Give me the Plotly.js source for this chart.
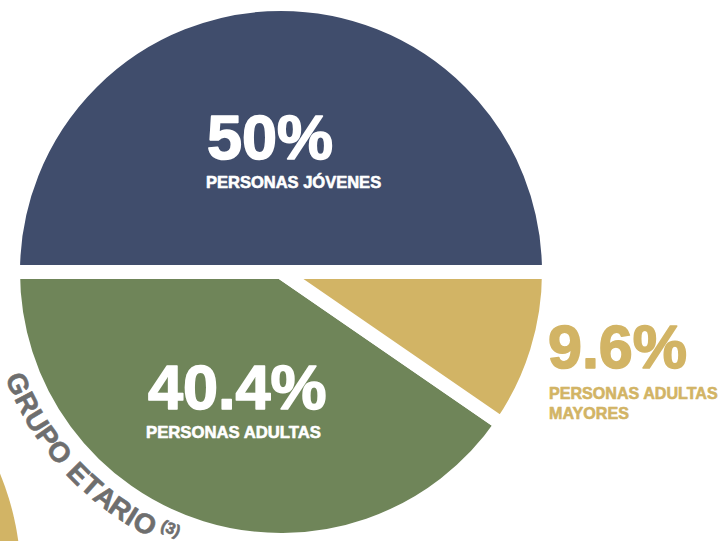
<!DOCTYPE html>
<html>
<head>
<meta charset="utf-8">
<script src="https://cdn.plot.ly/plotly-3.0.1.min.js"></script>
<style>
  html, body { margin: 0; padding: 0; background: #ffffff; overflow: hidden; }
  #chart { width: 720px; height: 541px; }
</style>
</head>
<body>
<div id="chart"></div>
<script>
// ---- data ----
const categories = ["PERSONAS JÓVENES", "PERSONAS ADULTAS", "PERSONAS ADULTAS MAYORES"];
const shares = [50, 40.4, 9.6];
const shareLabels = ["50%", "40.4%", "9.6%"];
const captionLines = [["PERSONAS JÓVENES"], ["PERSONAS ADULTAS"], ["PERSONAS ADULTAS", "MAYORES"]];
const sectionTitle = "GRUPO ETARIO";
const sectionNote = "(3)";

// ---- styles ----
const W = 720, H = 541;
const colors = ["#404d6c", "#6f8559", "#d2b465"];
const FONT = "Liberation Sans, Arial, Helvetica, sans-serif";
const px = (x) => x / W;
const py = (y) => 1 - y / H;

const annotations = [];
// label positions (pixel anchors: left edge, vertical centre of caps)
const bigPos = [
  { x: 205, y: 137, size: 63, color: "#ffffff" },
  { x: 146, y: 387, size: 63, color: "#ffffff" },
  { x: 546, y: 347, size: 61, color: colors[2] }
];
const capPos = [
  { x: 204, y: 182.5, size: 16.5, color: "#ffffff", lh: 0 },
  { x: 144, y: 432, size: 16.7, color: "#ffffff", lh: 0 },
  { x: 547, y: 393, size: 16.1, color: colors[2], lh: 19.5 }
];
for (let i = 0; i < shares.length; i++) {
  const b = bigPos[i];
  annotations.push({
    xref: "paper", yref: "paper", x: px(b.x), y: py(b.y),
    xanchor: "left", yanchor: "middle", showarrow: false,
    text: shareLabels[i],
    font: { family: FONT, size: b.size, color: b.color, weight: 700 }
  });
  const c = capPos[i];
  captionLines[i].forEach((line, k) => {
    annotations.push({
      xref: "paper", yref: "paper", x: px(c.x), y: py(c.y + k * c.lh),
      xanchor: "left", yanchor: "middle", showarrow: false,
      text: line,
      font: { family: FONT, size: c.size, color: c.color, weight: 700 }
    });
  });
}

// curved section title around the pie
const cx = 281, cy = 272;
const gray = "#6e6e6e";
const canvas = document.createElement("canvas");
const ctx = canvas.getContext("2d");
const tSize = 28, tR = 286, startDeg = 157;
ctx.font = "bold " + tSize + "px 'Liberation Sans'";
const measure = (s) => ctx.measureText(s).width;
const c0 = measure(sectionTitle[0]) / 2;
let lastCenter = 0;
for (let i = 0; i < sectionTitle.length; i++) {
  const ch = sectionTitle[i];
  const center = measure(sectionTitle.slice(0, i)) + measure(ch) / 2;
  lastCenter = center + measure(ch) / 2;
  if (ch === " ") continue;
  const phi = startDeg - ((center - c0) / tR) * 180 / Math.PI;
  const r = phi * Math.PI / 180;
  annotations.push({
    xref: "paper", yref: "paper",
    x: px(cx + tR * Math.cos(r)), y: py(cy + tR * Math.sin(r)),
    xanchor: "center", yanchor: "middle", showarrow: false,
    text: ch, textangle: phi - 90,
    font: { family: FONT, size: tSize, color: gray, weight: 700 }
  });
}
{
  const nSize = 16, nR = 279;
  ctx.font = "bold " + nSize + "px 'Liberation Sans'";
  const nw = ctx.measureText(sectionNote).width;
  const arc = lastCenter - c0 + 6 + nw / 2;
  const phi = startDeg - (arc / tR) * 180 / Math.PI;
  const r = phi * Math.PI / 180;
  annotations.push({
    xref: "paper", yref: "paper",
    x: px(cx + nR * Math.cos(r)), y: py(cy + nR * Math.sin(r)),
    xanchor: "center", yanchor: "middle", showarrow: false,
    text: sectionNote, textangle: phi - 90,
    font: { family: FONT, size: nSize, color: gray, weight: 700 }
  });
}

// neighbouring gold circle, partly visible at lower-left corner
const gcx = -260, gcy = 580, gr = 281;
const shapes = [{
  type: "circle", xref: "paper", yref: "paper", layer: "below",
  x0: px(gcx - gr), x1: px(gcx + gr), y0: py(gcy + gr), y1: py(gcy - gr),
  fillcolor: colors[2], line: { width: 0 }
}];

const trace = {
  type: "pie",
  labels: categories,
  values: shares,
  sort: false,
  direction: "counterclockwise",
  rotation: -90,
  textinfo: "none",
  hoverinfo: "skip",
  marker: { colors: colors, line: { color: "#ffffff", width: 14 } },
  domain: { x: [13 / W, 549 / W], y: [1 - 540 / H, 1 - 4 / H] },
  showlegend: false
};

Plotly.newPlot("chart", [trace], {
  width: W, height: H,
  margin: { l: 0, r: 0, t: 0, b: 0, pad: 0 },
  paper_bgcolor: "#ffffff",
  plot_bgcolor: "#ffffff",
  showlegend: false,
  annotations: annotations,
  shapes: shapes
}, { displayModeBar: false, staticPlot: true }).then(() => {
  // slightly heavier glyphs, like the condensed black face of the original
  document.querySelectorAll(".annotation-text").forEach((t) => {
    const fill = t.style.fill;
    const sz = parseFloat(t.style.fontSize) || 16;
    t.style.stroke = fill;
    t.style.strokeWidth = (sz > 40 ? 1.6 : 0.6) + "px";
    t.style.strokeLinejoin = "round";
  });
});
</script>
</body>
</html>
